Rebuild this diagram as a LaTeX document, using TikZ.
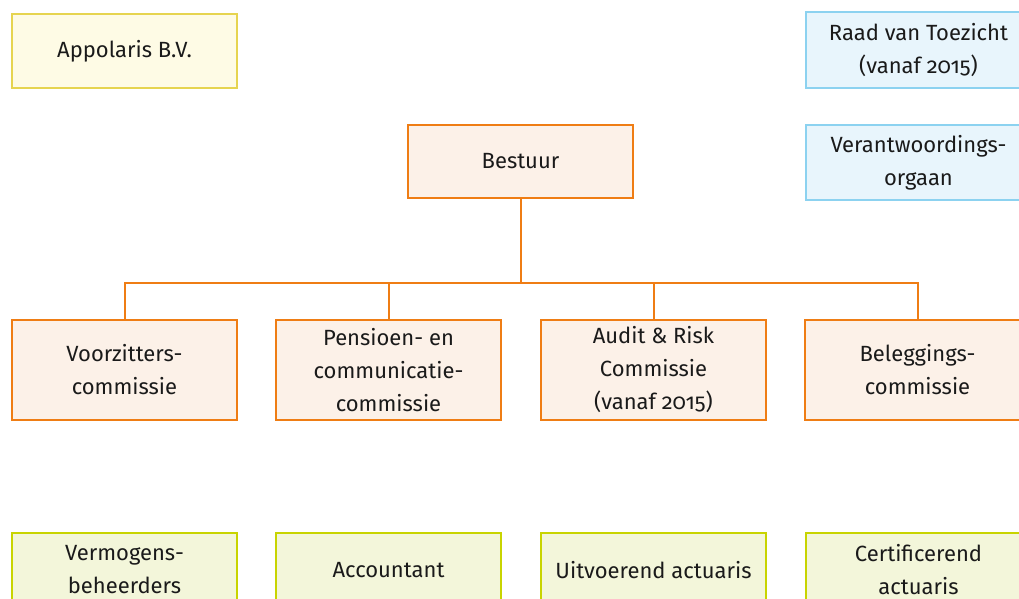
\documentclass[tikz,border=0pt]{standalone}
\usepackage{fontspec}
\setmainfont[Numbers=OldStyle]{Fira Sans}
\usepackage{tikz}
\usetikzlibrary{positioning,calc}
\definecolor{orgorange}  {RGB}{239,125,20}
\definecolor{orgorangebg}{RGB}{252,241,232}
\definecolor{orgyellow}  {RGB}{230,212,80}
\definecolor{orgyellowbg}{RGB}{254,251,229}
\definecolor{orgblue}    {RGB}{140,210,240}
\definecolor{orgbluebg}  {RGB}{232,245,252}
\definecolor{orggreen}   {RGB}{200,212,0}
\definecolor{orggreenbg} {RGB}{243,246,218}
\definecolor{orgtext}    {RGB}{26,26,26}

\begin{document}
\begin{tikzpicture}[
  x=1pt,y=-1pt,
  orgbox/.style 2 args={draw=#1,fill=#2,line width=2pt,minimum width=225pt,
                        inner sep=0pt,align=center,text=orgtext,
                        font=\fontsize{22}{33}\selectfont},
  obox/.style={orgbox={orgorange}{orgorangebg},minimum height=#1},
  ybox/.style={orgbox={orgyellow}{orgyellowbg},minimum height=#1},
  bbox/.style={orgbox={orgblue}{orgbluebg},minimum height=#1},
  gbox/.style={orgbox={orggreen}{orggreenbg},minimum height=#1},
  conn/.style={draw=orgorange,line width=2pt},
]
\useasboundingbox (0,0) rectangle (1019,599);

%% ── Top row ──────────────────────────────────────────────────────────────────
\node[ybox=74pt] (appolaris) at (124.5,51) {Appolaris B.V.};
\node[bbox=76pt] (rvt) at (918.5,50) {Raad van Toezicht\\(vanaf 2015)};
\node[bbox=75pt] (vo) at (918.5,162.5) {Verantwoordings-\\orgaan};

%% ── Bestuur ──────────────────────────────────────────────────────────────────
\node[obox=73pt] (bestuur) at (520.5,161.5) {Bestuur};
\coordinate (bus) at (520.5,283);

%% ── Commissies ───────────────────────────────────────────────────────────────
\node[obox=100pt] (voorz) at (124.5,370) {Voorzitters-\\commissie};
\node[obox=100pt] (pensioen) at (388.5,370) {Pensioen- en\\communicatie-\\commissie};
\node[obox=100pt] (audit) at (653.5,370) {Audit \& Risk\\Commissie\\(vanaf 2015)};
\node[obox=100pt] (beleg) at (917.5,370) {Beleggings-\\commissie};

%% ── Externe partijen ─────────────────────────────────────────────────────────
\node[gbox=74pt] (vermogen) at (124.5,570) {Vermogens-\\beheerders};
\node[gbox=74pt] (accountant) at (388.5,570) {Accountant};
\node[gbox=74pt] (uitvoerend) at (653.5,570) {Uitvoerend actuaris};
\node[gbox=74pt] (certif) at (918.5,570) {Certificerend\\actuaris};

%% ── Lijnen ───────────────────────────────────────────────────────────────────
\draw[conn] (bestuur.south) -- (bus);
\foreach \c in {voorz,pensioen,audit,beleg}
  \draw[conn] (bus) -| (\c.north);

\end{tikzpicture}
\end{document}
